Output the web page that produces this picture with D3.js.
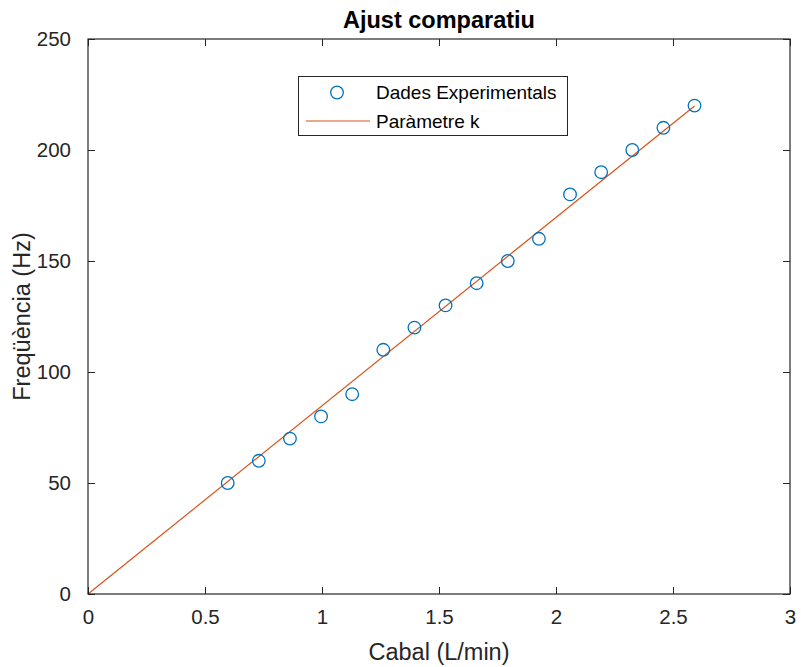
<!DOCTYPE html>
<html lang="ca">
<head>
<meta charset="utf-8">
<title>Ajust comparatiu</title>
<script src="https://cdn.jsdelivr.net/npm/d3@7"></script>
<style>
  body { margin: 0; background: #fff; }
  text { font-family: "Liberation Sans", Arial, Helvetica, sans-serif; fill: #262626; }
</style>
</head>
<body>
<svg id="chart" width="801" height="667"></svg>
<script>
// measured data
var cabal = [0.597, 0.730, 0.863, 0.996, 1.129, 1.262, 1.395, 1.528,
             1.661, 1.794, 1.927, 2.060, 2.193, 2.326, 2.459, 2.592];
var freq  = [50, 60, 70, 80, 90, 110, 120, 130, 140, 150, 160, 180, 190, 200, 210, 220];

// fitted parameter k (f = k * Q)
var k = 84.8;
var fitX = [0, 2.592];

var xTicks = [0, 0.5, 1, 1.5, 2, 2.5, 3];
var yTicks = [0, 50, 100, 150, 200, 250];

var svg = d3.select("#chart"),
    margin = {top: 39, left: 88, bottom: 73, right: 11},
    width = +svg.attr("width") - margin.left - margin.right,
    height = +svg.attr("height") - margin.top - margin.bottom;

var x = d3.scaleLinear().domain([0, 3]).range([margin.left, margin.left + width]);
var y = d3.scaleLinear().domain([0, 250]).range([margin.top + height, margin.top]);

var axisColor = "#262626";

// fit line
svg.append("path")
  .datum(fitX)
  .attr("fill", "none")
  .attr("stroke", "#D95319")
  .attr("stroke-width", 1.2)
  .attr("d", d3.line().x(d => x(d)).y(d => y(k * d)));

// data points
svg.selectAll("circle.pt")
  .data(cabal)
  .enter().append("circle")
  .attr("class", "pt")
  .attr("cx", d => x(d))
  .attr("cy", (d, i) => y(freq[i]))
  .attr("r", 6.3)
  .attr("fill", "none")
  .attr("stroke", "#0072BD")
  .attr("stroke-width", 1.3);

// axes (ticks inside, box)
function styleAxis(g) {
  g.select(".domain").remove();
  g.selectAll(".tick line").attr("stroke", axisColor).attr("stroke-width", 1);
  g.selectAll(".tick text")
    .style("font-size", "20.5px")
    .style("font-family", "'Liberation Sans', Arial, sans-serif")
    .attr("fill", axisColor);
}

svg.append("g")
  .attr("transform", `translate(0,${margin.top + height})`)
  .call(d3.axisBottom(x).tickValues(xTicks).tickFormat(d3.format("")).tickSizeInner(-7).tickSizeOuter(0).tickPadding(15))
  .call(styleAxis);

svg.append("g")
  .attr("transform", `translate(0,${margin.top})`)
  .call(d3.axisTop(x).tickValues(xTicks).tickFormat("").tickSizeInner(-7).tickSizeOuter(0))
  .call(styleAxis);

svg.append("g")
  .attr("transform", `translate(${margin.left},0)`)
  .call(d3.axisLeft(y).tickValues(yTicks).tickFormat(d3.format("")).tickSizeInner(-7).tickSizeOuter(0).tickPadding(17))
  .call(styleAxis);

svg.append("g")
  .attr("transform", `translate(${margin.left + width},0)`)
  .call(d3.axisRight(y).tickValues(yTicks).tickFormat("").tickSizeInner(-7).tickSizeOuter(0))
  .call(styleAxis);

svg.append("rect")
  .attr("x", margin.left)
  .attr("y", margin.top)
  .attr("width", width)
  .attr("height", height)
  .attr("fill", "none")
  .attr("stroke", axisColor)
  .attr("stroke-width", 1.2);

// labels
svg.append("text")
  .attr("x", margin.left + width / 2)
  .attr("y", 660)
  .attr("text-anchor", "middle")
  .style("font-size", "23.5px")
  .text("Cabal (L/min)");

svg.append("text")
  .attr("transform", `translate(30,${margin.top + height / 2}) rotate(-90)`)
  .attr("text-anchor", "middle")
  .style("font-size", "23.5px")
  .text("Freqüència (Hz)");

svg.append("text")
  .attr("x", margin.left + width / 2)
  .attr("y", 28)
  .attr("text-anchor", "middle")
  .style("font-size", "23.5px")
  .style("font-weight", "bold")
  .style("fill", "#000")
  .text("Ajust comparatiu");

// legend
var leg = svg.append("g");
leg.append("rect")
  .attr("x", 298.5).attr("y", 76.5)
  .attr("width", 269).attr("height", 59)
  .attr("fill", "#fff")
  .attr("stroke", axisColor)
  .attr("stroke-width", 1);

leg.append("circle")
  .attr("cx", 337).attr("cy", 92.5)
  .attr("r", 6.3)
  .attr("fill", "none")
  .attr("stroke", "#0072BD")
  .attr("stroke-width", 1.3);

leg.append("line")
  .attr("x1", 306).attr("x2", 370)
  .attr("y1", 121).attr("y2", 121)
  .attr("stroke", "#D95319")
  .attr("stroke-width", 1.2);

leg.selectAll("text.lt")
  .data(["Dades Experimentals", "Paràmetre k"])
  .enter().append("text")
  .attr("class", "lt")
  .attr("x", 376)
  .attr("y", (d, i) => 92.5 + i * 28.5)
  .attr("dy", "0.35em")
  .style("font-size", "19px")
  .style("fill", "#000")
  .text(d => d);
</script>
</body>
</html>
